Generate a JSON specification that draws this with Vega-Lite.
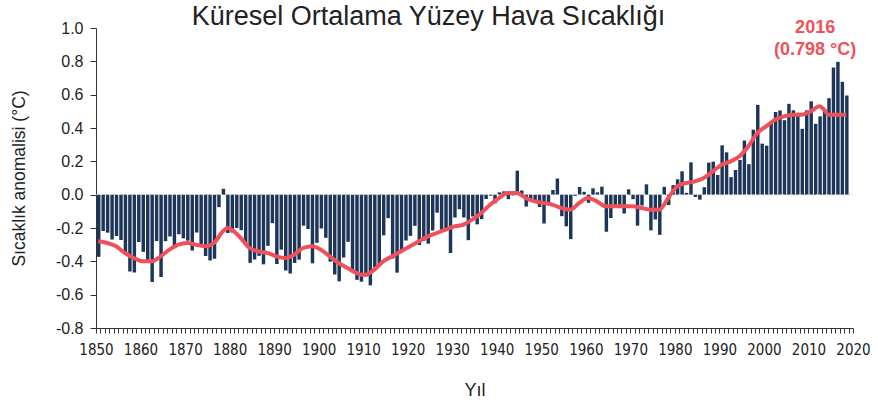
{
  "$schema": "https://vega.github.io/schema/vega-lite/v6.json",
  "width": 757,
  "height": 300,
  "autosize": "none",
  "padding": {"left": 96, "top": 28, "right": 25, "bottom": 79},
  "background": "white",
  "config": {
    "view": {"stroke": null},
    "font": "Liberation Sans",
    "axis": {"domainColor": "#333", "tickColor": "#333", "labelColor": "#222", "titleColor": "#222", "labelFont": "Liberation Sans", "titleFont": "Liberation Sans", "titleFontWeight": "normal", "grid": false}
  },
  "title": {"text": "Küresel Ortalama Yüzey Hava Sıcaklığı", "fontSize": 27, "fontWeight": "normal", "font": "Liberation Sans", "color": "#222", "anchor": "middle", "dx": -46, "offset": -4, "dy": 8},
  "datasets": {
    "bars": [
      {"year":"1850","value":-0.373},{"year":"1851","value":-0.218},{"year":"1852","value":-0.228},{"year":"1853","value":-0.269},{"year":"1854","value":-0.248},{"year":"1855","value":-0.272},{"year":"1856","value":-0.358},{"year":"1857","value":-0.461},{"year":"1858","value":-0.467},{"year":"1859","value":-0.284},
      {"year":"1860","value":-0.343},{"year":"1861","value":-0.407},{"year":"1862","value":-0.524},{"year":"1863","value":-0.278},{"year":"1864","value":-0.494},{"year":"1865","value":-0.279},{"year":"1866","value":-0.251},{"year":"1867","value":-0.321},{"year":"1868","value":-0.238},{"year":"1869","value":-0.262},
      {"year":"1870","value":-0.276},{"year":"1871","value":-0.335},{"year":"1872","value":-0.227},{"year":"1873","value":-0.304},{"year":"1874","value":-0.368},{"year":"1875","value":-0.395},{"year":"1876","value":-0.384},{"year":"1877","value":-0.075},{"year":"1878","value":0.035},{"year":"1879","value":-0.230},
      {"year":"1880","value":-0.227},{"year":"1881","value":-0.200},{"year":"1882","value":-0.213},{"year":"1883","value":-0.296},{"year":"1884","value":-0.409},{"year":"1885","value":-0.389},{"year":"1886","value":-0.367},{"year":"1887","value":-0.418},{"year":"1888","value":-0.307},{"year":"1889","value":-0.171},
      {"year":"1890","value":-0.416},{"year":"1891","value":-0.330},{"year":"1892","value":-0.455},{"year":"1893","value":-0.473},{"year":"1894","value":-0.410},{"year":"1895","value":-0.390},{"year":"1896","value":-0.186},{"year":"1897","value":-0.206},{"year":"1898","value":-0.412},{"year":"1899","value":-0.289},
      {"year":"1900","value":-0.203},{"year":"1901","value":-0.259},{"year":"1902","value":-0.402},{"year":"1903","value":-0.479},{"year":"1904","value":-0.520},{"year":"1905","value":-0.377},{"year":"1906","value":-0.283},{"year":"1907","value":-0.465},{"year":"1908","value":-0.511},{"year":"1909","value":-0.522},
      {"year":"1910","value":-0.490},{"year":"1911","value":-0.544},{"year":"1912","value":-0.437},{"year":"1913","value":-0.424},{"year":"1914","value":-0.244},{"year":"1915","value":-0.141},{"year":"1916","value":-0.383},{"year":"1917","value":-0.468},{"year":"1918","value":-0.333},{"year":"1919","value":-0.275},
      {"year":"1920","value":-0.247},{"year":"1921","value":-0.187},{"year":"1922","value":-0.302},{"year":"1923","value":-0.276},{"year":"1924","value":-0.294},{"year":"1925","value":-0.215},{"year":"1926","value":-0.108},{"year":"1927","value":-0.210},{"year":"1928","value":-0.206},{"year":"1929","value":-0.350},
      {"year":"1930","value":-0.137},{"year":"1931","value":-0.087},{"year":"1932","value":-0.137},{"year":"1933","value":-0.273},{"year":"1934","value":-0.131},{"year":"1935","value":-0.178},{"year":"1936","value":-0.147},{"year":"1937","value":-0.026},{"year":"1938","value":-0.006},{"year":"1939","value":-0.052},
      {"year":"1940","value":0.014},{"year":"1941","value":0.020},{"year":"1942","value":-0.027},{"year":"1943","value":-0.004},{"year":"1944","value":0.144},{"year":"1945","value":0.025},{"year":"1946","value":-0.071},{"year":"1947","value":-0.038},{"year":"1948","value":-0.039},{"year":"1949","value":-0.074},
      {"year":"1950","value":-0.173},{"year":"1951","value":-0.052},{"year":"1952","value":0.028},{"year":"1953","value":0.097},{"year":"1954","value":-0.129},{"year":"1955","value":-0.190},{"year":"1956","value":-0.267},{"year":"1957","value":-0.007},{"year":"1958","value":0.046},{"year":"1959","value":0.017},
      {"year":"1960","value":-0.049},{"year":"1961","value":0.038},{"year":"1962","value":0.014},{"year":"1963","value":0.048},{"year":"1964","value":-0.223},{"year":"1965","value":-0.140},{"year":"1966","value":-0.068},{"year":"1967","value":-0.074},{"year":"1968","value":-0.113},{"year":"1969","value":0.032},
      {"year":"1970","value":-0.027},{"year":"1971","value":-0.186},{"year":"1972","value":-0.065},{"year":"1973","value":0.062},{"year":"1974","value":-0.214},{"year":"1975","value":-0.149},{"year":"1976","value":-0.241},{"year":"1977","value":0.047},{"year":"1978","value":-0.062},{"year":"1979","value":0.057},
      {"year":"1980","value":0.092},{"year":"1981","value":0.140},{"year":"1982","value":0.011},{"year":"1983","value":0.194},{"year":"1984","value":-0.014},{"year":"1985","value":-0.030},{"year":"1986","value":0.045},{"year":"1987","value":0.192},{"year":"1988","value":0.198},{"year":"1989","value":0.118},
      {"year":"1990","value":0.296},{"year":"1991","value":0.254},{"year":"1992","value":0.105},{"year":"1993","value":0.148},{"year":"1994","value":0.208},{"year":"1995","value":0.325},{"year":"1996","value":0.183},{"year":"1997","value":0.390},{"year":"1998","value":0.539},{"year":"1999","value":0.306},
      {"year":"2000","value":0.294},{"year":"2001","value":0.441},{"year":"2002","value":0.496},{"year":"2003","value":0.505},{"year":"2004","value":0.447},{"year":"2005","value":0.545},{"year":"2006","value":0.506},{"year":"2007","value":0.491},{"year":"2008","value":0.395},{"year":"2009","value":0.506},
      {"year":"2010","value":0.560},{"year":"2011","value":0.425},{"year":"2012","value":0.470},{"year":"2013","value":0.514},{"year":"2014","value":0.579},{"year":"2015","value":0.763},{"year":"2016","value":0.797},{"year":"2017","value":0.677},{"year":"2018","value":0.595}
    ],
    "smooth": [
      {"year":"1850","value":-0.28},{"year":"1852","value":-0.29},{"year":"1854","value":-0.31},{"year":"1856","value":-0.35},{"year":"1858","value":-0.38},{"year":"1860","value":-0.40},{"year":"1862","value":-0.40},{"year":"1864","value":-0.37},{"year":"1866","value":-0.33},{"year":"1868","value":-0.30},
      {"year":"1870","value":-0.29},{"year":"1872","value":-0.30},{"year":"1874","value":-0.31},{"year":"1876","value":-0.29},{"year":"1878","value":-0.22},{"year":"1879","value":-0.20},{"year":"1880","value":-0.21},{"year":"1882","value":-0.26},{"year":"1884","value":-0.32},{"year":"1886","value":-0.34},
      {"year":"1888","value":-0.35},{"year":"1890","value":-0.37},{"year":"1892","value":-0.38},{"year":"1894","value":-0.36},{"year":"1896","value":-0.32},{"year":"1898","value":-0.31},{"year":"1900","value":-0.33},{"year":"1902","value":-0.37},{"year":"1904","value":-0.41},{"year":"1906","value":-0.44},
      {"year":"1908","value":-0.47},{"year":"1909","value":-0.48},{"year":"1910","value":-0.48},{"year":"1912","value":-0.45},{"year":"1914","value":-0.40},{"year":"1916","value":-0.37},{"year":"1918","value":-0.34},{"year":"1920","value":-0.31},{"year":"1922","value":-0.28},{"year":"1924","value":-0.25},
      {"year":"1926","value":-0.23},{"year":"1928","value":-0.21},{"year":"1930","value":-0.19},{"year":"1932","value":-0.18},{"year":"1934","value":-0.15},{"year":"1936","value":-0.11},{"year":"1938","value":-0.06},{"year":"1940","value":-0.02},{"year":"1942","value":0.01},{"year":"1943","value":0.01},
      {"year":"1944","value":0.01},{"year":"1946","value":-0.02},{"year":"1948","value":-0.04},{"year":"1950","value":-0.05},{"year":"1952","value":-0.06},{"year":"1954","value":-0.08},{"year":"1956","value":-0.09},{"year":"1958","value":-0.05},{"year":"1960","value":-0.02},{"year":"1962","value":-0.04},
      {"year":"1964","value":-0.07},{"year":"1966","value":-0.07},{"year":"1968","value":-0.07},{"year":"1970","value":-0.07},{"year":"1972","value":-0.08},{"year":"1974","value":-0.09},{"year":"1976","value":-0.09},{"year":"1978","value":-0.02},{"year":"1980","value":0.05},{"year":"1982","value":0.07},
      {"year":"1984","value":0.08},{"year":"1986","value":0.10},{"year":"1988","value":0.14},{"year":"1990","value":0.18},{"year":"1992","value":0.20},{"year":"1994","value":0.23},{"year":"1996","value":0.29},{"year":"1998","value":0.37},{"year":"2000","value":0.41},{"year":"2002","value":0.45},
      {"year":"2004","value":0.47},{"year":"2006","value":0.48},{"year":"2008","value":0.48},{"year":"2010","value":0.50},{"year":"2012","value":0.53},{"year":"2013","value":0.51},{"year":"2014","value":0.48},{"year":"2016","value":0.48},{"year":"2018","value":0.48}
    ]
  },
  "layer": [
    {
      "data": {"name": "bars", "format": {"parse": {"year": "utc:'%Y'"}}},
      "mark": {"type": "bar", "color": "#1c3559", "timeUnitBandSize": 0.68, "timeUnitBandPosition": 0.5},
      "encoding": {
        "x": {"field": "year", "type": "temporal", "timeUnit": "utcyear",
              "scale": {"domain": [{"year": 1850, "utc": true}, {"year": 2020, "utc": true}]},
              "axis": {"title": "Yıl", "titleFontSize": 18, "titlePadding": 24, "labelFontSize": 15, "labelFont": "'DejaVu Sans Condensed', 'Liberation Sans', sans-serif", "labelPadding": 9, "tickSize": 5,
                       "tickCount": {"interval": "year", "step": 1}, "labelOverlap": false, "labelFlush": false, "labelBound": false,
                       "labelExpr": "utcyear(datum.value) % 10 === 0 ? utcFormat(datum.value, '%Y') : ''"}},
        "y": {"field": "value", "type": "quantitative",
              "scale": {"domain": [-0.8, 1.0], "nice": false, "zero": false},
              "axis": {"title": "Sıcaklık anomalisi (°C)", "titleFontSize": 17.5, "titlePadding": 27, "labelFontSize": 16, "tickSize": 6, "labelPadding": 7,
                       "labelOverlap": false, "labelFlush": false, "labelBound": false, "tickCount": 10,
                       "values": [-0.8, -0.6, -0.4, -0.2, 0, 0.2, 0.4, 0.6, 0.8, 1.0],
                       "labelExpr": "replace(format(datum.value, '.1f'), '\u2212', '-')"}}
      }
    },
    {
      "data": {"values": [{}]},
      "mark": {"type": "rule", "color": "#b8b8b8", "strokeDash": [1, 2], "strokeWidth": 1},
      "encoding": {"y": {"datum": 0, "type": "quantitative"}}
    },
    {
      "data": {"name": "smooth", "format": {"parse": {"year": "utc:'%Y'"}}},
      "mark": {"type": "line", "color": "#f0505a", "strokeWidth": 4, "interpolate": "monotone"},
      "encoding": {
        "x": {"field": "year", "type": "temporal", "timeUnit": "utcyear", "bandPosition": 0.5},
        "y": {"field": "value", "type": "quantitative"}
      }
    },
    {
      "data": {"values": [{}]},
      "mark": {"type": "text", "text": ["2016", "(0.798 °C)"], "color": "#f0505a", "fontWeight": "bold", "fontSize": 18, "font": "Liberation Sans", "lineHeight": 22, "align": "center", "baseline": "middle", "clip": false},
      "encoding": {
        "x": {"datum": {"year": 2011, "month": 7, "utc": true}, "type": "temporal"},
        "y": {"datum": 1.0, "type": "quantitative"}
      }
    }
  ]
}
